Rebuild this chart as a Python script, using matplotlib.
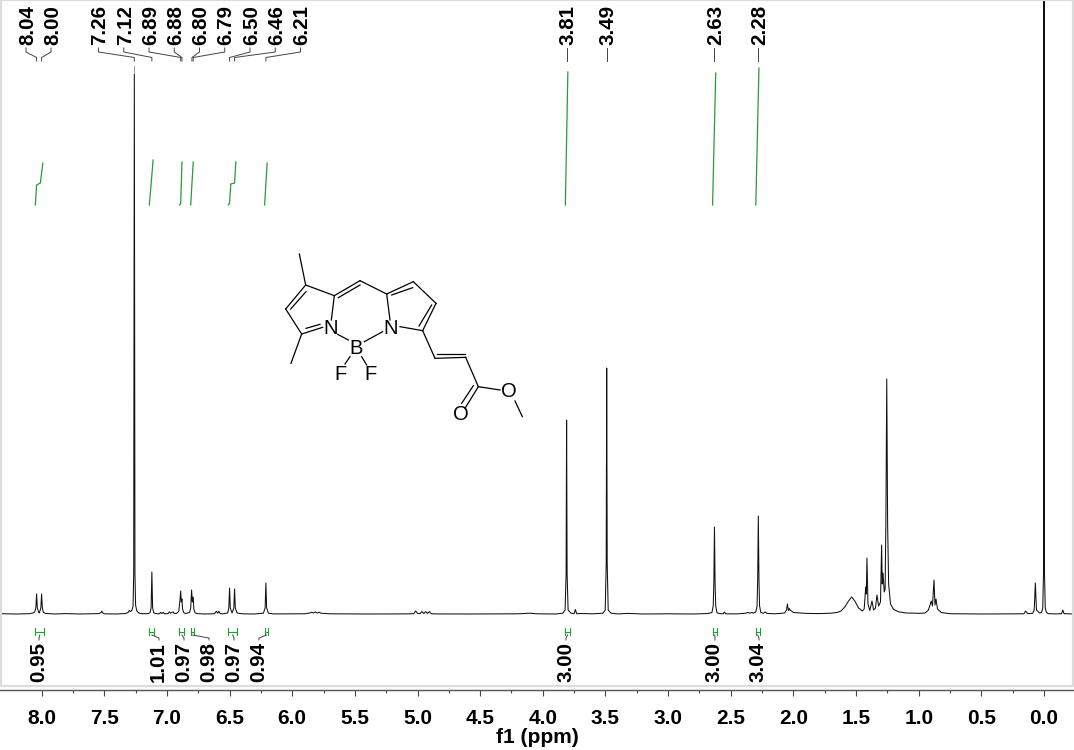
import numpy as np
import matplotlib
matplotlib.use("Agg")
import matplotlib.pyplot as plt
from matplotlib.patches import Rectangle

plt.rcParams["font.family"] = ["Liberation Sans", "DejaVu Sans"]

# spectrum trace, intensity is pixels above baseline
aromatic_ppm = [8.33, 8.2, 8.1, 8.07, 8.055, 8.046, 8.04, 8.034, 8.022, 8.018, 8.006, 8.0, 7.994,
                7.985, 7.97, 7.9, 7.8, 7.7, 7.6, 7.54, 7.525, 7.52, 7.515, 7.5, 7.4, 7.33, 7.31,
                7.30, 7.29, 7.28, 7.27, 7.265, 7.26, 7.255, 7.25, 7.24, 7.225, 7.2, 7.15, 7.135,
                7.126, 7.12, 7.114, 7.105, 7.09, 7.06, 7.05, 7.04, 7.03, 7.02, 6.99, 6.98, 6.97,
                6.95, 6.94, 6.92, 6.905, 6.897, 6.89, 6.885, 6.88, 6.875, 6.865, 6.85, 6.82, 6.81,
                6.803, 6.797, 6.79, 6.785, 6.775, 6.76, 6.7, 6.62, 6.605, 6.595, 6.585, 6.575,
                6.56, 6.515, 6.506, 6.5, 6.494, 6.48, 6.466, 6.46, 6.454, 6.44, 6.4, 6.3, 6.23,
                6.216, 6.21, 6.204, 6.19, 6.15]
aromatic_int = [0.3, 0, 0.3, 1, 2, 6, 20, 6, 1.2, 1.2, 6, 20, 6, 1.5, 0.6, 0, 0.4, 0, 0.3, 0.4,
                1.5, 3, 1.5, 0.2, 0, 0.5, 1.5, 3.5, 2.5, 3.5, 8, 40, 540, 40, 9, 3, 1, 0.3, 0.4, 1.2,
                6, 42, 6, 1.2, 0.4, 0.2, 1.6, 0.5, 1.6, 0.2, 0.4, 2.2, 0.8, 2.2, 0.3, 0.8, 3, 12, 23,
                12, 15, 5, 1.2, 0.5, 1.5, 6, 24, 12, 17, 5, 1.2, 0.4, 0, 0.3, 2.8, 0.8, 2.8, 0.5, 0.1,
                1, 6, 26, 6, 1, 6, 25, 6, 1, 0.2, 0, 0.8, 6, 31, 6, 0.8, 0.1]

middle_ppm = [6.0, 5.9, 5.86, 5.845, 5.83, 5.815, 5.8, 5.785, 5.77, 5.7, 5.4, 5.1, 5.03, 5.015, 5.0,
              4.98, 4.965, 4.95, 4.935, 4.92, 4.905, 4.89, 4.87, 4.6, 4.2, 4.1, 4.05, 3.9, 3.84,
              3.822, 3.814, 3.81, 3.806, 3.798, 3.775, 3.75, 3.74, 3.73, 3.7, 3.6, 3.52, 3.502,
              3.494, 3.49, 3.486, 3.478, 3.455, 3.4, 3.32, 3.2, 3.0]
middle_int = [0.1, 0.2, 1, 1.8, 1, 2, 1, 1.8, 0.8, 0.2, 0, 0.1, 0.3, 3, 0.6, 0.4, 2.4, 0.5, 2.4, 0.5,
              2.4, 0.3, 0.1, 0, 0.2, 0.8, 0.2, 0, 0.8, 4, 40, 194, 40, 4, 0.8, 0.4, 4.5, 0.3, 0.5,
              0.2, 0.8, 4, 50, 246, 50, 4, 0.8, 0.1, 0.6, 0, 0.2]

aliphatic_ppm = [2.8, 2.68, 2.65, 2.64, 2.635, 2.63, 2.625, 2.62, 2.61, 2.59, 2.56, 2.55, 2.54, 2.45,
                 2.38, 2.36, 2.35, 2.33, 2.32, 2.31, 2.3, 2.29, 2.285, 2.28, 2.275, 2.27, 2.26, 2.24,
                 2.225, 2.21, 2.15, 2.07, 2.055, 2.048, 2.04, 2.032, 2.025, 2.015, 2.0, 1.9, 1.8,
                 1.7, 1.65, 1.62, 1.59, 1.56, 1.535, 1.51, 1.48, 1.45, 1.435, 1.423, 1.418, 1.413,
                 1.405, 1.39, 1.373, 1.36, 1.345, 1.333, 1.32, 1.305, 1.296, 1.291, 1.285, 1.275,
                 1.268, 1.262, 1.255, 1.248, 1.24, 1.225, 1.2, 1.16, 1.1, 1.0, 0.95, 0.925, 0.912,
                 0.9, 0.89, 0.878, 0.87, 0.862, 0.85, 0.82, 0.75, 0.5, 0.3, 0.16, 0.146, 0.13, 0.09,
                 0.078, 0.069, 0.06, 0.035, 0.02, 0.01, 0.004, 0.0, -0.004, -0.01, -0.02, -0.035,
                 -0.1, -0.14, -0.15, -0.16, -0.2, -0.24]
aliphatic_int = [0, 0.5, 1.5, 8, 30, 87, 30, 8, 1.2, 0.4, 0.2, 2, 0.2, 0.1, 0.8, 1.6, 0.8, 1.6, 0.8,
                 1.6, 2, 8, 35, 98, 35, 8, 1.5, 0.7, 2, 0.6, 0.2, 1, 4, 10, 3.5, 5.5, 3.5, 3, 1.5,
                 0.6, 0.4, 0.8, 1.6, 3, 7, 13, 17, 13, 6, 3, 5, 27, 20, 56, 10, 3.5, 13, 4, 6, 19, 8,
                 12, 69, 30, 41, 22, 25, 90, 235, 90, 30, 10, 4.5, 2.2, 1, 0.7, 1, 3.5, 8, 13, 8, 34,
                 9, 15, 5, 1.5, 0.3, 0, 0.1, 0.2, 3, 0.3, 0.8, 4, 31, 4, 1, 1.5, 6, 40, 700, 40, 6,
                 1.5, 0.3, 0.1, 0.3, 4, 0.3, 0.1, 0]

# peak picks
peak_labels = ["8.04", "8.00", "7.26", "7.12", "6.89", "6.88", "6.80", "6.79", "6.50", "6.46", "6.21"]
peak_ppm = [8.04, 8.00, 7.26, 7.12, 6.89, 6.88, 6.80, 6.79, 6.50, 6.46, 6.21]
single_labels = ["3.81", "3.49", "2.63", "2.28"]
single_ppm = [3.81, 3.49, 2.63, 2.28]

# integrals: (ppm points, curve height points)
integral_curves = [
    ([8.05, 8.04, 8.01, 7.99], [409, 429, 431, 451]),
    ([7.14, 7.11], [409, 454]),
    ([6.90, 6.89, 6.88], [409, 410, 452]),
    ([6.81, 6.79], [409, 452]),
    ([6.51, 6.50, 6.49, 6.46, 6.45], [409, 411, 430, 431, 452]),
    ([6.22, 6.20], [409, 451]),
    ([3.82, 3.80], [409, 542]),
    ([2.645, 2.62], [409, 541]),
    ([2.30, 2.275], [409, 546]),
]
integral_left = [8.05, 7.14, 6.90, 6.81, 6.51, 6.22, 3.82, 2.645, 2.30]
integral_right = [7.98, 7.10, 6.86, 6.78, 6.44, 6.19, 3.785, 2.61, 2.27]
integral_labels = ["0.95", "1.01", "0.97", "0.98", "0.97", "0.94", "3.00", "3.00", "3.04"]

xtick_values = [8.0, 7.5, 7.0, 6.5, 6.0, 5.5, 5.0, 4.5, 4.0, 3.5, 3.0, 2.5, 2.0, 1.5, 1.0, 0.5, 0.0]

fig = plt.figure(figsize=(10.74, 7.5), dpi=100)
ax = fig.add_axes([0, 60 / 750, 1, 690 / 750])
ax.plot(aromatic_ppm + middle_ppm + aliphatic_ppm, aromatic_int + middle_int + aliphatic_int,
        color="#111111", lw=0.75)
ax.set_xlim(1044 / 125.3, -30 / 125.3)
ax.set_ylim(-76, 614)
ax.patch.set_alpha(0)
for s in ["top", "left", "right"]:
    ax.spines[s].set_visible(False)
ax.spines["bottom"].set_color("#555555")
ax.spines["bottom"].set_linewidth(1.0)
ax.set_yticks([])
ax.set_xticks(xtick_values)
ax.set_xticklabels(["%.1f" % v for v in xtick_values], fontsize=15, fontweight="bold")
ax.set_xticks(np.array(xtick_values[:-1]) - 0.25, minor=True)
ax.tick_params(axis="x", which="major", length=4.5, width=0.8, color="#444444", pad=9)
ax.tick_params(axis="x", which="minor", length=2.5, width=0.8, color="#444444")
ax.set_xlabel("f1 (ppm)", fontsize=15, fontweight="bold", labelpad=0.5)

for cx, cy in integral_curves:
    ax.plot(cx, cy, color="#2a9a35", lw=0.9)

# overlay in figure pixels for the annotation layout
ov = fig.add_axes([0, 0, 1, 1])
ov.set_xlim(0, 1074)
ov.set_ylim(750, 0)
ov.axis("off")
ov.patch.set_alpha(0)
ov.add_patch(Rectangle((1, 0), 1072, 686, fill=False, edgecolor="#dcdcdc", lw=1.6))


def to_px(ppm):
    return ax.transData.transform((ppm, 0))[0]


leader = dict(color="#444444", lw=0.7)
for i, (lab, p) in enumerate(zip(peak_labels, peak_ppm)):
    lx = 26 + 25 * i
    if i >= 2:
        lx = 98.5 + 25.25 * (i - 2)
    x = to_px(p)
    ov.plot([lx, lx, x, x], [48, 52, 57.5, 61], **leader)
    ov.text(lx + 1.5, 45, lab, rotation=90, ha="center", va="bottom", fontsize=14.8, fontweight="bold")
ov.plot([to_px(7.26)] * 2, [66, 72], color="#999999", lw=0.7)

for lab, p in zip(single_labels, single_ppm):
    x = to_px(p)
    ov.plot([x, x], [48, 61], **leader)
    ov.text(x + 1.5, 45, lab, rotation=90, ha="center", va="bottom", fontsize=14.8, fontweight="bold")

# integral bars and values below the trace
label_x = [37, 157, 182, 207, 232, 257, 564, 713, 757]
for lab, left, right, lx in zip(integral_labels, integral_left, integral_right, label_x):
    x0, x1 = to_px(left), to_px(right)
    ov.plot([x0, x1], [631.5, 631.5], color="#2a9a35", lw=0.8)
    ov.plot([x0, x0], [628, 635], color="#2a9a35", lw=0.8)
    ov.plot([x1, x1], [628, 635], color="#2a9a35", lw=0.8)
    mid = (x0 + x1) / 2
    ov.plot([mid, mid, lx + 2, lx + 2], [635, 635, 638, 640], **leader)
    ov.text(lx + 1.5, 682, lab, rotation=90, ha="center", va="bottom", fontsize=14.8, fontweight="bold")

# molecule drawing, coordinates are 3x pixels inside its box
mol = fig.add_axes([270 / 1074, (750 - 430) / 750, 270 / 1074, 190 / 750])
mol.set_xlim(0, 810)
mol.set_ylim(570, 0)
mol.axis("off")
mol.patch.set_alpha(0)
bonds = [
    (88, 42, 107, 135), (107, 135, 193, 167), (107, 135, 47, 207), (108, 155, 62, 207),
    (47, 207, 95, 282), (95, 282, 63, 370), (95, 282, 158, 262), (108, 265, 150, 253),
    (193, 167, 184, 240), (193, 167, 270, 122), (205, 173, 270, 135), (270, 122, 350, 162),
    (350, 162, 430, 125), (365, 165, 428, 143), (430, 125, 498, 190), (498, 190, 458, 272),
    (485, 195, 447, 258), (350, 162, 360, 240), (390, 260, 458, 272), (458, 272, 495, 355),
    (495, 355, 587, 352), (500, 342, 585, 342), (587, 352, 625, 440), (625, 440, 690, 450),
    (625, 440, 585, 505), (610, 437, 575, 490), (735, 483, 757, 530), (203, 283, 235, 300),
    (283, 305, 338, 275), (240, 350, 225, 372), (275, 350, 290, 375),
]
for x0, y0, x1, y1 in bonds:
    mol.plot([x0, x1], [y0, y1], color="black", lw=0.9)
atoms = [("N", 183, 265), ("N", 362, 265), ("B", 258, 325), ("F", 213, 402), ("F", 303, 402),
         ("O", 717, 455), ("O", 573, 525)]
for name, x, y in atoms:
    mol.text(x, y, name, ha="center", va="center", fontsize=14.5)

fig.savefig("out.png", dpi=100)
plt.close(fig)
